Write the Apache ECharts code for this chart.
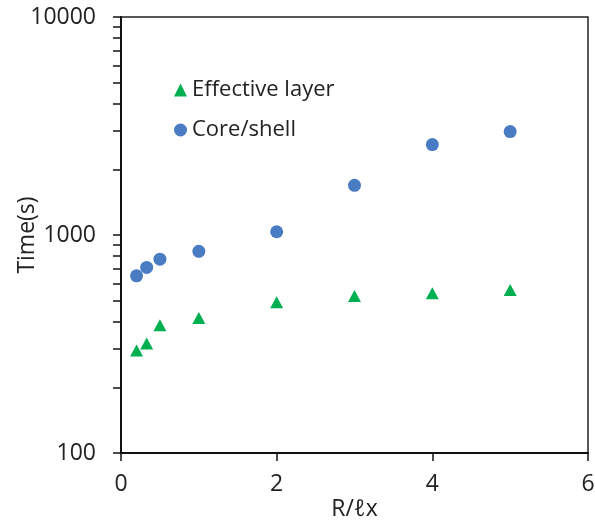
<!DOCTYPE html>
<html>
<head>
<meta charset="utf-8">
<script src="https://cdn.jsdelivr.net/npm/echarts@6/dist/echarts.min.js"></script>
<style>
  html, body { margin: 0; padding: 0; background: #fff; }
  #chart { width: 595px; height: 524px; }
</style>
</head>
<body>
<div id="chart"></div>
<script>
// R/lx values
const ratios = [0.2, 0.33, 0.5, 1, 2, 3, 4, 5]
const effectiveLayer = [295, 318, 385, 416, 491, 525, 540, 560]
const coreShell = [650, 710, 775, 842, 1035, 1690, 2600, 2980]
const yLabelTicks = [100, 1000, 10000]
const yMinorTicks = [100, 200, 300, 400, 500, 600, 700, 800, 900,
  1000, 2000, 3000, 4000, 5000, 6000, 7000, 8000, 9000, 10000]

const chart = echarts.init(document.getElementById('chart'))

const font = '"Open Sans", sans-serif'

const option = {
  animation: false,
  grid: {
    left: 121,
    right: 7,
    top: 17,
    bottom: 71,
    outerBoundsMode: 'none',
    containLabel: false,
    show: true,
    borderColor: '#222',
    borderWidth: 1.5
  },
  legend: {
    orient: 'vertical',
    left: 169,
    top: 74,
    itemGap: 18,
    itemWidth: 13,
    itemHeight: 13,
    textStyle: { fontFamily: font, fontSize: 22, color: '#222' },
    data: [
      { name: 'Effective layer', icon: 'triangle' },
      { name: 'Core/shell', icon: 'circle' }
    ]
  },
  xAxis: {
    type: 'value',
    min: 0,
    max: 6,
    interval: 2,
    name: 'R/ℓx',
    nameLocation: 'middle',
    nameGap: 45,
    nameMoveOverlap: false,
    nameTextStyle: { fontFamily: font, fontSize: 23, color: '#222' },
    axisLine: { show: true, lineStyle: { color: '#111', width: 2 } },
    axisTick: { show: true, inside: false, length: 8, lineStyle: { color: '#111', width: 1.5 } },
    axisLabel: { margin: 20, fontFamily: font, fontSize: 23, color: '#222' },
    splitLine: { show: false }
  },
  yAxis: {
    type: 'log',
    logBase: 10,
    min: 100,
    max: 10000,
    name: 'Time(s)',
    nameLocation: 'middle',
    nameGap: 82,
    nameMoveOverlap: false,
    nameRotate: 90,
    nameTextStyle: { fontFamily: font, fontSize: 23, color: '#222' },
    axisLine: { show: true, lineStyle: { color: '#111', width: 2 } },
    axisTick: {
      show: true,
      length: 8,
      customValues: yMinorTicks,
      lineStyle: { color: '#111', width: 1.5 }
    },
    axisLabel: {
      margin: 25,
      fontFamily: font,
      fontSize: 23,
      color: '#222',
      customValues: yLabelTicks,
      formatter: v => String(Math.round(v))
    },
    splitLine: { show: false }
  },
  series: [
    {
      name: 'Effective layer',
      type: 'scatter',
      symbol: 'triangle',
      symbolSize: [13, 12],
      itemStyle: { color: '#00B050', opacity: 1 },
      data: ratios.map((r, i) => [r, effectiveLayer[i]])
    },
    {
      name: 'Core/shell',
      type: 'scatter',
      symbol: 'circle',
      symbolSize: 13,
      itemStyle: { color: '#4A7CC4', opacity: 1 },
      data: ratios.map((r, i) => [r, coreShell[i]])
    }
  ]
}

chart.setOption(option)
</script>
</body>
</html>
